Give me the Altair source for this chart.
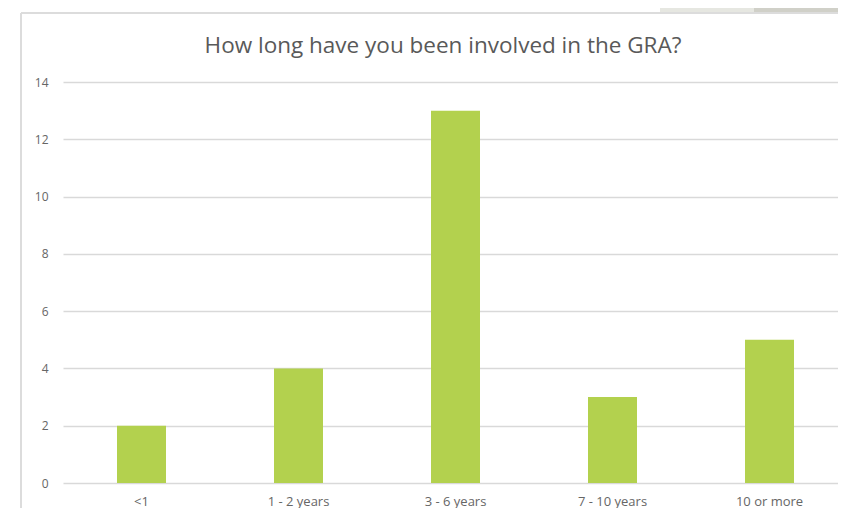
import altair as alt
import pandas as pd

categories = ["<1", "1 - 2 years", "3 - 6 years", "7 - 10 years", "10 or more"]
counts = [2, 4, 13, 3, 5]
y_ticks = [0, 2, 4, 6, 8, 10, 12, 14]
title_text = "How long have you been involved in the GRA?"

df = pd.DataFrame({"cat": categories, "n": counts})

W, H = 775, 401
font = "Open Sans"
label_color = "#666666"

bars = alt.Chart(df).mark_bar(color="#b3d14e", size=49).encode(
    x=alt.X("cat:N", sort=categories, title=None,
            scale=alt.Scale(paddingInner=0, paddingOuter=0, range=[0, 785]),
            axis=alt.Axis(labelAngle=0, ticks=False, domain=False, labelPadding=12,
                          labelFontSize=13, labelColor=label_color, labelFont=font)),
    y=alt.Y("n:Q", title=None,
            scale=alt.Scale(domain=[0, 14], nice=False),
            axis=alt.Axis(values=y_ticks, ticks=False, domain=False, labelPadding=15,
                          labelFontSize=12, labelColor=label_color, labelFont=font,
                          gridColor="#d9d9d9", gridWidth=1.5)),
)

base = alt.Chart(pd.DataFrame({"t": [title_text]}))

frame_left = base.mark_rule(color="#dcdcdc", strokeWidth=2).encode(
    x=alt.value(-42), y=alt.value(-69), y2=alt.value(H + 25)
)
frame_top = base.mark_rule(color="#dcdcdc", strokeWidth=2).encode(
    x=alt.value(-42), x2=alt.value(W), y=alt.value(-69)
)
deco_light = base.mark_rect(color="#e6e7e1").encode(
    x=alt.value(597), x2=alt.value(W), y=alt.value(-74), y2=alt.value(-70)
)
deco_dark = base.mark_rect(color="#d0d0c8").encode(
    x=alt.value(691), x2=alt.value(W), y=alt.value(-74), y2=alt.value(-70)
)
title = base.mark_text(fontSize=22.5, font=font, color="#595959", align="center",
                       baseline="alphabetic").encode(
    text="t:N", x=alt.value(380), y=alt.value(-29)
)

chart = alt.layer(deco_light, deco_dark, frame_left, frame_top, title, bars).properties(
    width=W, height=H,
    autosize=alt.AutoSizeParams(type="none"),
    padding={"left": 55, "top": 74, "right": 0, "bottom": 25},
).configure_view(stroke=None)

chart.save("out.html", embed_options={"renderer": "svg", "actions": False})
